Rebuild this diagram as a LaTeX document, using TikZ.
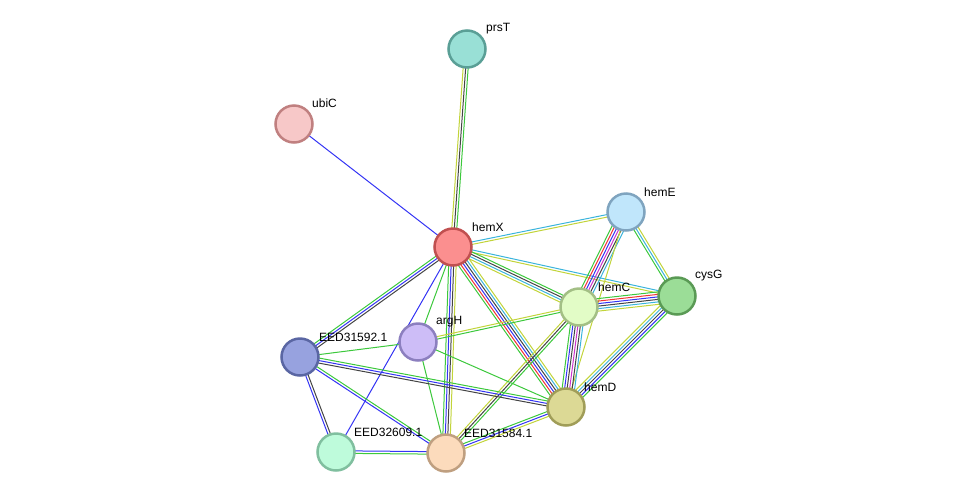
\documentclass[tikz,border=0pt]{standalone}
\usepackage{fontspec}
\setmainfont{Liberation Sans}
\usetikzlibrary{calc,backgrounds}
\definecolor{cgreen}{HTML}{3CC83C}
\definecolor{cyellow}{HTML}{C2D43A}
\definecolor{ccyan}{HTML}{3AB4DC}
\definecolor{cblack}{HTML}{444444}
\definecolor{cblue}{HTML}{3434F4}
\definecolor{cred}{HTML}{F03434}
\definecolor{cmag}{HTML}{CC34CC}
\newcommand{\sedge}[3]{%
  \foreach \cc [count=\ii] in {#3} {\xdef\edgecnt{\ii}}%
  \foreach \cc [count=\ii] in {#3} {%
    \pgfmathsetmacro\off{(\ii-(\edgecnt+1)/2)*2.5}%
    \draw[color=\cc, line width=1pt] ($(#1.center)!\off pt!90:(#2.center)$) -- ($(#2.center)!\off pt!-90:(#1.center)$);
  }%
}
\tikzset{
  prot/.style={circle, minimum size=37pt, inner sep=0pt, line width=2.5pt},
  plabel/.style={anchor=west, font=\fontsize{12}{14}\selectfont, inner sep=0pt}
}
\begin{document}
\begin{tikzpicture}[x=1pt,y=-1pt]
\useasboundingbox (0,0) rectangle (975,499);
\node[prot, fill={rgb,255:red,153;green,224;blue,214}, draw={rgb,255:red,90;green,159;blue,150}] (prsT) at (467,49) {};
\node[prot, fill={rgb,255:red,247;green,200;blue,200}, draw={rgb,255:red,192;green,128;blue,128}] (ubiC) at (294,124) {};
\node[prot, fill={rgb,255:red,251;green,143;blue,143}, draw={rgb,255:red,192;green,80;blue,80}] (hemX) at (453,247) {};
\node[prot, fill={rgb,255:red,192;green,230;blue,251}, draw={rgb,255:red,127;green,164;blue,191}] (hemE) at (626,212) {};
\node[prot, fill={rgb,255:red,155;green,221;blue,151}, draw={rgb,255:red,90;green,154;blue,85}] (cysG) at (677,296) {};
\node[prot, fill={rgb,255:red,226;green,252;blue,198}, draw={rgb,255:red,163;green,191;blue,133}] (hemC) at (579,307) {};
\node[prot, fill={rgb,255:red,205;green,189;blue,247}, draw={rgb,255:red,140;green,127;blue,191}] (argH) at (418,342) {};
\node[prot, fill={rgb,255:red,151;green,162;blue,223}, draw={rgb,255:red,90;green,102;blue,163}] (E92) at (300,357) {};
\node[prot, fill={rgb,255:red,220;green,217;blue,149}, draw={rgb,255:red,160;green,157;blue,88}] (hemD) at (566,407) {};
\node[prot, fill={rgb,255:red,190;green,251;blue,219}, draw={rgb,255:red,128;green,191;blue,159}] (E09) at (336,452) {};
\node[prot, fill={rgb,255:red,252;green,219;blue,188}, draw={rgb,255:red,191;green,159;blue,128}] (E84) at (446,453) {};

\node[plabel] (lprsT) at (486,29) {prsT};
\node[plabel] (lubiC) at (312,103) {ubiC};
\node[plabel] (lhemX) at (472,227) {hemX};
\node[plabel] (lhemE) at (644,192) {hemE};
\node[plabel] (lcysG) at (695,276) {cysG};
\node[plabel] (lhemC) at (598,287) {hemC};
\node[plabel] (largH) at (436,322) {argH};
\node[plabel] (lE92) at (319,337) {EED31592.1};
\node[plabel] (lhemD) at (584,387) {hemD};
\node[plabel] (lE09) at (354,432) {EED32609.1};
\node[plabel] (lE84) at (464,433) {EED31584.1};

\begin{scope}[on background layer]
\sedge{prsT}{hemX}{cyellow,cblack,cgreen}
\sedge{ubiC}{hemX}{cblue}
\sedge{hemX}{hemE}{cyellow,ccyan}
\sedge{hemX}{cysG}{cyellow,ccyan}
\sedge{hemX}{hemC}{cyellow,ccyan,cblack,cgreen}
\sedge{hemX}{hemD}{cgreen,cred,cblue,cblack,ccyan,cyellow}
\sedge{hemX}{E84}{cgreen,cblue,cblack,cyellow}
\sedge{hemX}{E92}{cgreen,cblue,cblack}
\sedge{hemX}{argH}{cgreen}
\sedge{hemX}{E09}{cblue}
\sedge{hemE}{hemC}{cgreen,cred,cblue,cmag,cblack,ccyan}
\sedge{hemE}{hemD}{cyellow}
\sedge{hemE}{cysG}{cgreen,ccyan,cyellow}
\sedge{hemC}{cysG}{cyellow,ccyan,cblack,cblue,cred,cgreen}
\sedge{cysG}{hemD}{cyellow,ccyan,cblack,cblue,cgreen}
\sedge{hemC}{hemD}{cgreen,cblue,cblack,cmag,cblack,ccyan}
\sedge{hemC}{argH}{cyellow,cgreen}
\sedge{hemC}{E84}{cyellow,cblack,cgreen}
\sedge{argH}{E92}{cgreen}
\sedge{argH}{hemD}{cgreen}
\sedge{argH}{E84}{cgreen}
\sedge{E92}{hemD}{cblack,cblue,cgreen}
\sedge{E92}{E84}{cblue,cgreen}
\sedge{E92}{E09}{cblue,cblack}
\sedge{E09}{E84}{cgreen,cblue}
\sedge{E84}{hemD}{cyellow,cblue,cgreen}
\end{scope}
\end{tikzpicture}
\end{document}
